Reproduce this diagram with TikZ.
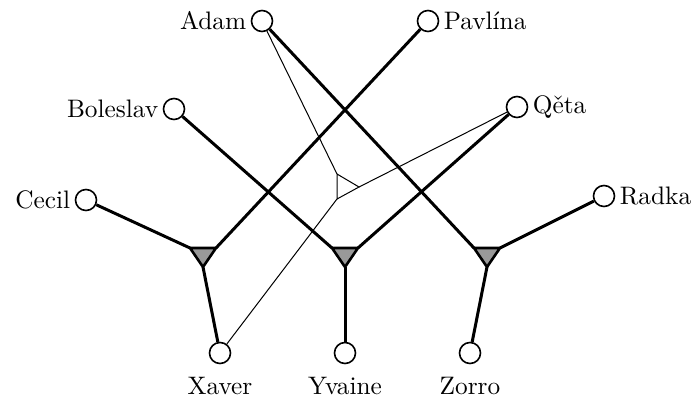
\documentclass[tikz,border=0pt]{standalone}
\usepackage{fontspec}
\setmainfont{lmroman10-regular.otf}
\begin{document}
\begin{tikzpicture}[x=1pt,y=-1pt,
  every node/.style={font=\fontsize{25.3}{30}\selectfont},
  vtx/.style={circle,draw,line width=1.6pt,minimum size=21pt,inner sep=0pt,fill=white},
  thickln/.style={line width=3pt},
  thinln/.style={line width=1pt},
  tri/.style={draw,fill=black!40,line width=2.6pt,line join=miter}]
\useasboundingbox (0,0) rectangle (697,404);
% triangles' corners
\coordinate (L1) at (190,248); \coordinate (L2) at (216,248); \coordinate (L3) at (203,267);
\coordinate (M1) at (332,248); \coordinate (M2) at (358,248); \coordinate (M3) at (345,267);
\coordinate (R1) at (474,248); \coordinate (R2) at (500,248); \coordinate (R3) at (487,267);
\coordinate (C1) at (337,174); \coordinate (C2) at (359,187); \coordinate (C3) at (337,199);
% vertices
\node[vtx,label={[label distance=1pt]left:Adam}] (adam) at (262,21) {};
\node[vtx,label={[label distance=1pt]right:Pavlína}] (pav) at (428,21) {};
\node[vtx,label={[label distance=1pt]left:Boleslav}] (bol) at (174,109) {};
\node[vtx,label={[label distance=1pt]right:Qěta}] (qeta) at (517,107) {};
\node[vtx,label={[label distance=1pt]left:Cecil}] (cecil) at (86,200) {};
\node[vtx,label={[label distance=1pt]right:Radka}] (radka) at (604,196) {};
\node[vtx,label={[label distance=9pt]below:Xaver}] (xaver) at (220,353) {};
\node[vtx,label={[label distance=9pt]below:Yvaine}] (yvaine) at (345,353) {};
\node[vtx,label={[label distance=9pt]below:Zorro}] (zorro) at (470,353) {};
% thin connectors
\draw[thinln] (adam) -- (C1);
\draw[thinln] (qeta) -- (C2);
\draw[thinln] (xaver) -- (C3);
\draw[thinln] (C1) -- (C2) -- (C3) -- cycle;
% thick connectors
\draw[thickln] (cecil) -- (L1);
\draw[thickln] (pav) -- (L2);
\draw[thickln] (xaver) -- (L3);
\draw[thickln] (bol) -- (M1);
\draw[thickln] (qeta) -- (M2);
\draw[thickln] (yvaine) -- (M3);
\draw[thickln] (adam) -- (R1);
\draw[thickln] (radka) -- (R2);
\draw[thickln] (zorro) -- (R3);
\path[tri] (L1) -- (L2) -- (L3) -- cycle;
\path[tri] (M1) -- (M2) -- (M3) -- cycle;
\path[tri] (R1) -- (R2) -- (R3) -- cycle;
\end{tikzpicture}
\end{document}
